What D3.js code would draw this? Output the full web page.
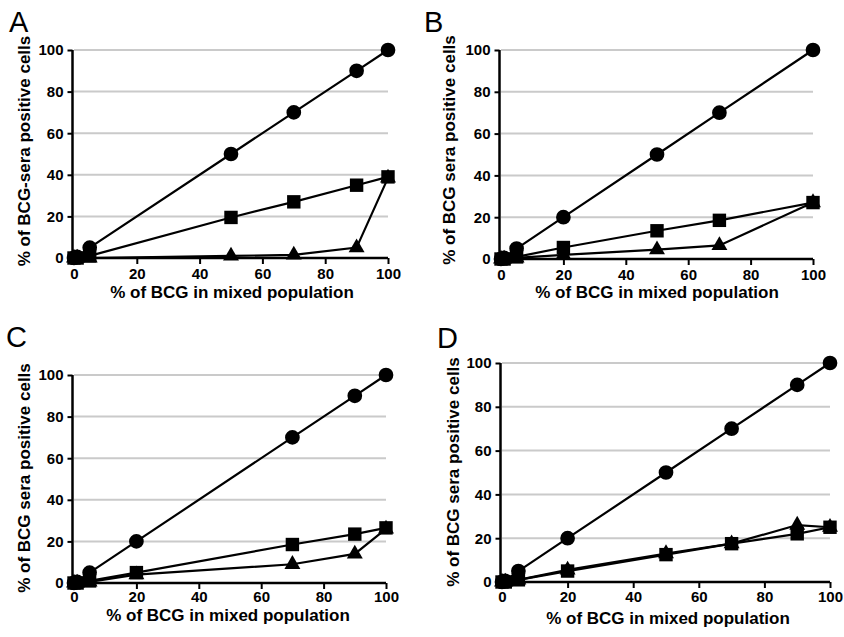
<!DOCTYPE html>
<html>
<head>
<meta charset="utf-8">
<script src="https://cdnjs.cloudflare.com/ajax/libs/d3/7.8.5/d3.min.js"></script>
<style>
body { margin: 0; background: #fff; }
svg text { font-family: Arial, "Liberation Sans", Helvetica, sans-serif; }
</style>
</head>
<body>
<div class="chart"></div>
<script>
// values, one set per panel
const xA = [0, 1, 5, 50, 70, 90, 100];
const circleA = [0, 0.5, 5, 50, 70, 90, 100];
const squareA = [0, 0, 1, 19.5, 27, 35, 39];
const triangleA = [0, 0, 0, 1, 1.5, 5, 38.5];

const xB = [0, 1, 5, 20, 50, 70, 100];
const circleB = [0, 0.5, 5, 20, 50, 70, 100];
const squareB = [0, 0, 1, 5.5, 13.5, 18.5, 27];
const triangleB = [0, 0, 0.5, 2, 4.5, 6.5, 27];

const xC = [0, 1, 5, 20, 70, 90, 100];
const circleC = [0, 0.5, 5, 20, 70, 90, 100];
const squareC = [0, 0, 1, 5, 18.5, 23.5, 26.5];
const triangleC = [0, 0, 0.5, 4, 9, 14, 26];

const xD = [0, 1, 5, 20, 50, 70, 90, 100];
const circleD = [0, 0.5, 5, 20, 50, 70, 90, 100];
const squareD = [0, 0, 1, 5, 12.5, 17.5, 22, 25];
const triangleD = [0, 0, 1, 5.5, 13, 17.5, 26, 25];

const ticks = [0, 20, 40, 60, 80, 100];
const xTitle = '% of BCG in mixed population';

const panels = [
	{letter: 'A', ytitle: '% of BCG-sera positive cells', x: xA, circle: circleA, square: squareA, triangle: triangleA,
	 xr: [74, 388], yr: [258, 50], lx: 9, ly: 32, yl: [24, 151], xl: [232, 298], pad: 4},
	{letter: 'B', ytitle: '% of BCG sera positive cells', x: xB, circle: circleB, square: squareB, triangle: triangleB,
	 xr: [501, 813], yr: [259, 50], lx: 424, ly: 32, yl: [449, 150], xl: [657, 298], pad: 4},
	{letter: 'C', ytitle: '% of BCG sera positive cells', x: xC, circle: circleC, square: squareC, triangle: triangleC,
	 xr: [74, 386], yr: [583, 375], lx: 6, ly: 347, yl: [24, 478], xl: [228, 621], pad: 2},
	{letter: 'D', ytitle: '% of BCG sera positive cells', x: xD, circle: circleD, square: squareD, triangle: triangleD,
	 xr: [502, 830], yr: [582, 363], lx: 437, ly: 348, yl: [453, 472], xl: [668, 624], pad: 3}
];

const width = 844;
const height = 637;
const svg = d3.select('.chart')
	.append('svg')
	.attr('width', width)
	.attr('height', height);

panels.forEach(p => {
	const x = d3.scaleLinear().domain([0, 100]).range(p.xr);
	const y = d3.scaleLinear().domain([0, 100]).range(p.yr);
	const g = svg.append('g');

	// grey gridlines
	g.selectAll('line.grid')
		.data(ticks.filter(t => t > 0))
		.enter()
		.append('line')
		.attr('x1', x(0))
		.attr('x2', x(100))
		.attr('y1', d => y(d))
		.attr('y2', d => y(d))
		.attr('stroke', '#cacaca')
		.attr('stroke-width', 2);

	const yAxis = g.append('g')
		.attr('transform', `translate(${x(0) - 1.5},0)`)
		.call(d3.axisLeft(y).tickValues(ticks).tickSize(5).tickPadding(4));
	const xAxis = g.append('g')
		.attr('transform', `translate(0,${y(0)})`)
		.call(d3.axisBottom(x).tickValues(ticks).tickSize(6).tickPadding(p.pad));
	[xAxis, yAxis].forEach(a => {
		a.select('.domain').attr('stroke', '#000').attr('stroke-width', 2.5);
		a.selectAll('.tick line').attr('stroke', '#000').attr('stroke-width', 2);
		a.selectAll('.tick text')
			.attr('font-size', '15px')
			.attr('font-weight', 'bold')
			.attr('fill', '#000');
	});
	xAxis.select('.domain').attr('d', `M${x(0) - 3},0H${x(100)}`);
	yAxis.select('.domain').attr('d', `M0,${y(0)}V${y(100)}`);

	const line = d3.line().x(d => x(d[0])).y(d => y(d[1]));
	const series = [
		{key: 'triangle', vals: p.triangle},
		{key: 'square', vals: p.square},
		{key: 'circle', vals: p.circle}
	];
	series.forEach(s => {
		const pts = p.x.map((v, i) => [v, s.vals[i]]);
		g.append('path')
			.datum(pts)
			.attr('d', line)
			.attr('fill', 'none')
			.attr('stroke', '#000')
			.attr('stroke-width', 2.2);
		const sym = s.key === 'circle' ? d3.symbolCircle : s.key === 'square' ? d3.symbolSquare : d3.symbolTriangle;
		const size = s.key === 'circle' ? 170 : s.key === 'square' ? 180 : 110;
		g.selectAll('path.m-' + s.key)
			.data(pts)
			.enter()
			.append('path')
			.attr('class', 'm-' + s.key)
			.attr('transform', d => `translate(${x(d[0])},${y(d[1])})`)
			.attr('d', d3.symbol().type(sym).size(size))
			.attr('fill', '#000');
	});

	g.append('text')
		.attr('x', p.lx)
		.attr('y', p.ly)
		.attr('font-size', '29px')
		.attr('fill', '#000')
		.text(p.letter);

	g.append('text')
		.attr('transform', `translate(${p.yl[0]},${p.yl[1]}) rotate(-90)`)
		.attr('text-anchor', 'middle')
		.attr('dy', '0.35em')
		.attr('font-size', '17px')
		.attr('font-weight', 'bold')
		.attr('fill', '#000')
		.text(p.ytitle);

	g.append('text')
		.attr('x', p.xl[0])
		.attr('y', p.xl[1])
		.attr('text-anchor', 'middle')
		.attr('font-size', '17px')
		.attr('font-weight', 'bold')
		.attr('fill', '#000')
		.text(xTitle);
});
</script>
</body>
</html>
